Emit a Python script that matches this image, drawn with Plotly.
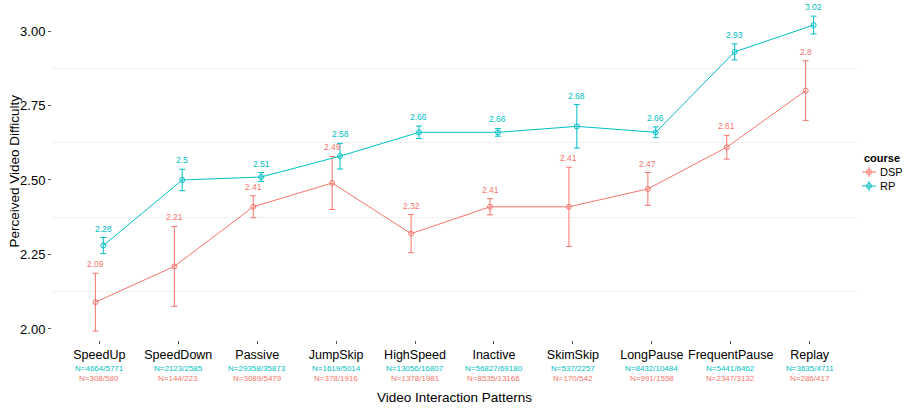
import plotly.graph_objects as go

categories = ["SpeedUp", "SpeedDown", "Passive", "JumpSkip", "HighSpeed",
              "Inactive", "SkimSkip", "LongPause", "FrequentPause", "Replay"]
dsp_mean = [2.09, 2.21, 2.41, 2.49, 2.32, 2.41, 2.41, 2.47, 2.61, 2.80]
dsp_err = [0.097, 0.134, 0.037, 0.089, 0.064, 0.027, 0.133, 0.055, 0.040, 0.100]
rp_mean = [2.28, 2.50, 2.51, 2.58, 2.66, 2.66, 2.68, 2.66, 2.93, 3.02]
rp_err = [0.027, 0.036, 0.015, 0.043, 0.021, 0.013, 0.073, 0.018, 0.027, 0.030]
rp_n = ["N=4664/5771", "N=2123/2585", "N=29358/35873", "N=1619/5014", "N=13056/16807",
        "N=56827/69180", "N=537/2257", "N=8432/10484", "N=5441/6462", "N=3635/4711"]
dsp_n = ["N=308/580", "N=144/223", "N=3089/5479", "N=378/1916", "N=1378/1981",
         "N=8535/13166", "N=170/542", "N=991/1558", "N=2347/3132", "N=286/417"]
y_ticks = [2.00, 2.25, 2.50, 2.75, 3.00]

DSP_C = "#F8766D"
RP_C = "#00BFC4"
FONT = "Liberation Sans, Arial, sans-serif"
dodge = 0.05

idx = list(range(len(categories)))
fig = go.Figure()

for means, errs, col, off, name in [(dsp_mean, dsp_err, DSP_C, -dodge, "DSP"),
                                     (rp_mean, rp_err, RP_C, dodge, "RP")]:
    xs = [i + off for i in idx]
    fig.add_trace(go.Scatter(
        x=xs, y=means, mode="lines+markers", name=name, showlegend=False,
        line=dict(color=col, width=1),
        marker=dict(symbol="circle-open", size=5, color=col, line=dict(width=1, color=col)),
        error_y=dict(type="data", array=errs, visible=True, color=col, thickness=1, width=3),
    ))
    for x, m, e in zip(xs, means, errs):
        fig.add_annotation(x=x, y=m + e, xref="x", yref="y", text=f"{m:g}",
                           showarrow=False, yanchor="middle", yshift=9,
                           font=dict(family=FONT, size=8.5, color=col))

for i in idx:
    fig.add_annotation(x=i, y=0, xref="x", yref="paper", text=rp_n[i], showarrow=False,
                       yanchor="middle", yshift=-28, font=dict(family=FONT, size=8, color=RP_C))
    fig.add_annotation(x=i, y=0, xref="x", yref="paper", text=dsp_n[i], showarrow=False,
                       yanchor="middle", yshift=-38, font=dict(family=FONT, size=8, color=DSP_C))

# axis titles
fig.add_annotation(x=0.5, y=0, xref="paper", yref="paper", text="Video Interaction Patterns",
                   showarrow=False, yanchor="middle", yshift=-57,
                   font=dict(family=FONT, size=13.5, color="black"))
fig.add_annotation(x=0, y=0.5, xref="paper", yref="paper", text="Perceived Video Difficulty",
                   showarrow=False, textangle=-90, xanchor="center", xshift=-38,
                   font=dict(family=FONT, size=13.5, color="black"))

# manual legend
L, T, W, H = 52, 3, 805, 337
def px(p):
    return (p - L) / W
def py(p):
    return (T + H - p) / H

fig.add_annotation(x=px(862), y=py(158), xref="paper", yref="paper", text="<b>course</b>",
                   showarrow=False, xanchor="left", yanchor="middle",
                   font=dict(family=FONT, size=11, color="black"))
for yy, col, name in [(172, DSP_C, "DSP"), (186, RP_C, "RP")]:
    fig.add_shape(type="line", xref="paper", yref="paper", x0=px(862), x1=px(876),
                  y0=py(yy), y1=py(yy), line=dict(color=col, width=1))
    fig.add_shape(type="line", xref="paper", yref="paper", x0=px(869), x1=px(869),
                  y0=py(yy - 5), y1=py(yy + 5), line=dict(color=col, width=1))
    fig.add_shape(type="circle", xref="paper", yref="paper", xsizemode="pixel", ysizemode="pixel",
                  xanchor=px(869), yanchor=py(yy), x0=-2.5, x1=2.5, y0=-2.5, y1=2.5,
                  line=dict(color=col, width=1))
    fig.add_annotation(x=px(878), y=py(yy), xref="paper", yref="paper", text=name,
                       showarrow=False, xanchor="left", yanchor="middle",
                       font=dict(family=FONT, size=11, color="black"))

fig.update_layout(
    width=907, height=409,
    margin=dict(l=L, r=907 - L - W, t=T, b=409 - T - H),
    plot_bgcolor="white", paper_bgcolor="white",
    font=dict(family=FONT, color="black"),
    showlegend=False,
)
fig.update_xaxes(
    range=[-0.6, 9.6], tickvals=idx, ticktext=categories,
    showgrid=False, zeroline=False, showline=False,
    ticks="outside", ticklen=3, tickcolor="#555555", tickwidth=1,
    tickfont=dict(family=FONT, size=12.5, color="black"),
)
fig.update_yaxes(
    range=[1.963, 3.094], tickvals=y_ticks, ticktext=[f"{v:.2f}" for v in y_ticks],
    showgrid=False, zeroline=False, showline=False,
    ticks="outside", ticklen=3, tickcolor="#555555", tickwidth=1,
    tickfont=dict(family=FONT, size=13, color="black"),
    minor=dict(tickvals=[2.125, 2.375, 2.625, 2.875], showgrid=True,
               gridcolor="#f0f0f0", gridwidth=1, ticks=""),
)

fig.write_html("out.html", config={"displayModeBar": False},
               post_script="document.body.style.margin='0px';document.body.style.overflow='hidden';")
